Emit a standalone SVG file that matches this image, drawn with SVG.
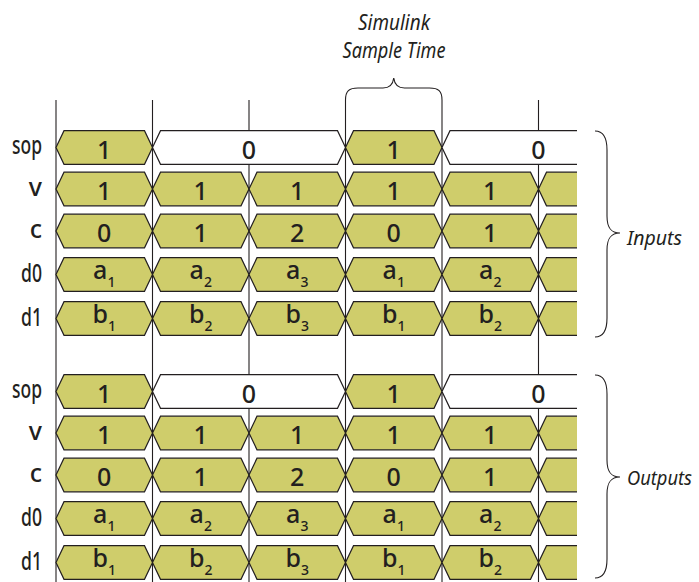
<svg xmlns="http://www.w3.org/2000/svg" xmlns:xlink="http://www.w3.org/1999/xlink" width="699" height="582" viewBox="0 0 699 582">
<style>
.y{fill:#CFCD6B;stroke:#231F20;stroke-width:1.2;stroke-linejoin:miter}
.w{fill:#FFFFFF;stroke:#231F20;stroke-width:1.2}
.grid{stroke:#231F20;stroke-width:1.1}
.br{fill:none;stroke:#231F20;stroke-width:1.1}
text{font-family:"Noto Sans","Liberation Sans",sans-serif;font-stretch:condensed;fill:#231F20}
.v{font-size:25px;font-weight:500;text-anchor:middle}
.lb{font-size:25px;font-weight:500;text-anchor:end}
.it{font-size:22px;font-style:italic}
.side{font-size:20.5px;font-style:italic}
.sub{font-size:14px}
</style>
<defs>
<polygon id="cell" points="0,0 8,-16.8 88.5,-16.8 96.5,0 88.5,16.8 8,16.8"/>
<polygon id="wide" points="0,0 8,-16.8 185,-16.8 193,0 185,16.8 8,16.8"/>
<path id="openw" d="M135,-16.8 L8,-16.8 L0,0 L8,16.8 L135,16.8"/>
<path id="openy" d="M38.5,-16.8 L8,-16.8 L0,0 L8,16.8 L38.5,16.8"/>
</defs>

<g id="grid-lines">
<line class="grid" x1="56" y1="100" x2="56" y2="582"/>
<line class="grid" x1="152.5" y1="100" x2="152.5" y2="582"/>
<line class="grid" x1="249" y1="100" x2="249" y2="582"/>
<line class="grid" x1="345.5" y1="100" x2="345.5" y2="582"/>
<line class="grid" x1="442" y1="100" x2="442" y2="582"/>
<line class="grid" x1="538.5" y1="100" x2="538.5" y2="582"/>
</g>

<g id="sample-time">
<path class="br" d="M345.5,100 C345.5,91 349,88 358,88 L383,88 C390,88 393,84 393.75,78 C394.5,84 397.5,88 404.5,88 L429.5,88 C438.5,88 442,91 442,100"/>
<text class="it" x="394" y="30" text-anchor="middle" textLength="72" lengthAdjust="spacingAndGlyphs">Simulink</text>
<text class="it" x="394" y="58" text-anchor="middle" textLength="103" lengthAdjust="spacingAndGlyphs">Sample Time</text>
</g>

<!-- Inputs -->
<g id="in-sop">
<text class="lb" x="42" y="154" textLength="30" lengthAdjust="spacingAndGlyphs">sop</text>
<use href="#cell" x="56" y="147.5" class="y"/>
<use href="#wide" x="152.5" y="147.5" class="w"/>
<use href="#cell" x="345.5" y="147.5" class="y"/>
<use href="#openw" x="442" y="147.5" class="w"/>
<text class="v" x="104.25" y="158.5">1</text>
<text class="v" x="249" y="158.5">0</text>
<text class="v" x="393.75" y="158.5">1</text>
<text class="v" x="538.5" y="158.5">0</text>
</g>
<g id="in-v">
<text class="lb" x="42" y="196">v</text>
<use href="#cell" x="56" y="189" class="y"/>
<use href="#cell" x="152.5" y="189" class="y"/>
<use href="#cell" x="249" y="189" class="y"/>
<use href="#cell" x="345.5" y="189" class="y"/>
<use href="#cell" x="442" y="189" class="y"/>
<use href="#openy" x="538.5" y="189" class="y"/>
<text class="v" x="104.25" y="200">1</text>
<text class="v" x="200.75" y="200">1</text>
<text class="v" x="297.25" y="200">1</text>
<text class="v" x="393.75" y="200">1</text>
<text class="v" x="490.25" y="200">1</text>
</g>
<g id="in-c">
<text class="lb" x="42" y="238">c</text>
<use href="#cell" x="56" y="231" class="y"/>
<use href="#cell" x="152.5" y="231" class="y"/>
<use href="#cell" x="249" y="231" class="y"/>
<use href="#cell" x="345.5" y="231" class="y"/>
<use href="#cell" x="442" y="231" class="y"/>
<use href="#openy" x="538.5" y="231" class="y"/>
<text class="v" x="104.25" y="242">0</text>
<text class="v" x="200.75" y="242">1</text>
<text class="v" x="297.25" y="242">2</text>
<text class="v" x="393.75" y="242">0</text>
<text class="v" x="490.25" y="242">1</text>
</g>
<g id="in-d0">
<text class="lb" x="42" y="281.5" textLength="21" lengthAdjust="spacingAndGlyphs">d0</text>
<use href="#cell" x="56" y="274.5" class="y"/>
<use href="#cell" x="152.5" y="274.5" class="y"/>
<use href="#cell" x="249" y="274.5" class="y"/>
<use href="#cell" x="345.5" y="274.5" class="y"/>
<use href="#cell" x="442" y="274.5" class="y"/>
<use href="#openy" x="538.5" y="274.5" class="y"/>
<text class="v" x="104.25" y="279">a<tspan class="sub" dy="8">1</tspan></text>
<text class="v" x="200.75" y="279">a<tspan class="sub" dy="8">2</tspan></text>
<text class="v" x="297.25" y="279">a<tspan class="sub" dy="8">3</tspan></text>
<text class="v" x="393.75" y="279">a<tspan class="sub" dy="8">1</tspan></text>
<text class="v" x="490.25" y="279">a<tspan class="sub" dy="8">2</tspan></text>
</g>
<g id="in-d1">
<text class="lb" x="42" y="325.5" textLength="21" lengthAdjust="spacingAndGlyphs">d1</text>
<use href="#cell" x="56" y="318.5" class="y"/>
<use href="#cell" x="152.5" y="318.5" class="y"/>
<use href="#cell" x="249" y="318.5" class="y"/>
<use href="#cell" x="345.5" y="318.5" class="y"/>
<use href="#cell" x="442" y="318.5" class="y"/>
<use href="#openy" x="538.5" y="318.5" class="y"/>
<text class="v" x="104.25" y="323">b<tspan class="sub" dy="8">1</tspan></text>
<text class="v" x="200.75" y="323">b<tspan class="sub" dy="8">2</tspan></text>
<text class="v" x="297.25" y="323">b<tspan class="sub" dy="8">3</tspan></text>
<text class="v" x="393.75" y="323">b<tspan class="sub" dy="8">1</tspan></text>
<text class="v" x="490.25" y="323">b<tspan class="sub" dy="8">2</tspan></text>
</g>
<g id="inputs-brace">
<path class="br" d="M595,131 C603,131 607,137 607,150 L607,216 C607,228 611,233 620,233 C611,233 607,238 607,250 L607,318 C607,331 603,337 595,337"/>
<text class="side" x="627" y="245" textLength="55" lengthAdjust="spacingAndGlyphs">Inputs</text>
</g>

<!-- Outputs -->
<g id="out-sop">
<text class="lb" x="42" y="398" textLength="30" lengthAdjust="spacingAndGlyphs">sop</text>
<use href="#cell" x="56" y="391.5" class="y"/>
<use href="#wide" x="152.5" y="391.5" class="w"/>
<use href="#cell" x="345.5" y="391.5" class="y"/>
<use href="#openw" x="442" y="391.5" class="w"/>
<text class="v" x="104.25" y="402.5">1</text>
<text class="v" x="249" y="402.5">0</text>
<text class="v" x="393.75" y="402.5">1</text>
<text class="v" x="538.5" y="402.5">0</text>
</g>
<g id="out-v">
<text class="lb" x="42" y="440">v</text>
<use href="#cell" x="56" y="433" class="y"/>
<use href="#cell" x="152.5" y="433" class="y"/>
<use href="#cell" x="249" y="433" class="y"/>
<use href="#cell" x="345.5" y="433" class="y"/>
<use href="#cell" x="442" y="433" class="y"/>
<use href="#openy" x="538.5" y="433" class="y"/>
<text class="v" x="104.25" y="444">1</text>
<text class="v" x="200.75" y="444">1</text>
<text class="v" x="297.25" y="444">1</text>
<text class="v" x="393.75" y="444">1</text>
<text class="v" x="490.25" y="444">1</text>
</g>
<g id="out-c">
<text class="lb" x="42" y="482">c</text>
<use href="#cell" x="56" y="475" class="y"/>
<use href="#cell" x="152.5" y="475" class="y"/>
<use href="#cell" x="249" y="475" class="y"/>
<use href="#cell" x="345.5" y="475" class="y"/>
<use href="#cell" x="442" y="475" class="y"/>
<use href="#openy" x="538.5" y="475" class="y"/>
<text class="v" x="104.25" y="486">0</text>
<text class="v" x="200.75" y="486">1</text>
<text class="v" x="297.25" y="486">2</text>
<text class="v" x="393.75" y="486">0</text>
<text class="v" x="490.25" y="486">1</text>
</g>
<g id="out-d0">
<text class="lb" x="42" y="525.5" textLength="21" lengthAdjust="spacingAndGlyphs">d0</text>
<use href="#cell" x="56" y="518.5" class="y"/>
<use href="#cell" x="152.5" y="518.5" class="y"/>
<use href="#cell" x="249" y="518.5" class="y"/>
<use href="#cell" x="345.5" y="518.5" class="y"/>
<use href="#cell" x="442" y="518.5" class="y"/>
<use href="#openy" x="538.5" y="518.5" class="y"/>
<text class="v" x="104.25" y="523">a<tspan class="sub" dy="8">1</tspan></text>
<text class="v" x="200.75" y="523">a<tspan class="sub" dy="8">2</tspan></text>
<text class="v" x="297.25" y="523">a<tspan class="sub" dy="8">3</tspan></text>
<text class="v" x="393.75" y="523">a<tspan class="sub" dy="8">1</tspan></text>
<text class="v" x="490.25" y="523">a<tspan class="sub" dy="8">2</tspan></text>
</g>
<g id="out-d1">
<text class="lb" x="42" y="569.5" textLength="21" lengthAdjust="spacingAndGlyphs">d1</text>
<use href="#cell" x="56" y="562.5" class="y"/>
<use href="#cell" x="152.5" y="562.5" class="y"/>
<use href="#cell" x="249" y="562.5" class="y"/>
<use href="#cell" x="345.5" y="562.5" class="y"/>
<use href="#cell" x="442" y="562.5" class="y"/>
<use href="#openy" x="538.5" y="562.5" class="y"/>
<text class="v" x="104.25" y="567">b<tspan class="sub" dy="8">1</tspan></text>
<text class="v" x="200.75" y="567">b<tspan class="sub" dy="8">2</tspan></text>
<text class="v" x="297.25" y="567">b<tspan class="sub" dy="8">3</tspan></text>
<text class="v" x="393.75" y="567">b<tspan class="sub" dy="8">1</tspan></text>
<text class="v" x="490.25" y="567">b<tspan class="sub" dy="8">2</tspan></text>
</g>
<g id="outputs-brace">
<path class="br" d="M595,375 C603,375 607,381 607,394 L607,460 C607,472 611,477 620,477 C611,477 607,482 607,494 L607,559 C607,572 603,578 595,578"/>
<text class="side" x="627" y="485" textLength="65" lengthAdjust="spacingAndGlyphs">Outputs</text>
</g>
</svg>
